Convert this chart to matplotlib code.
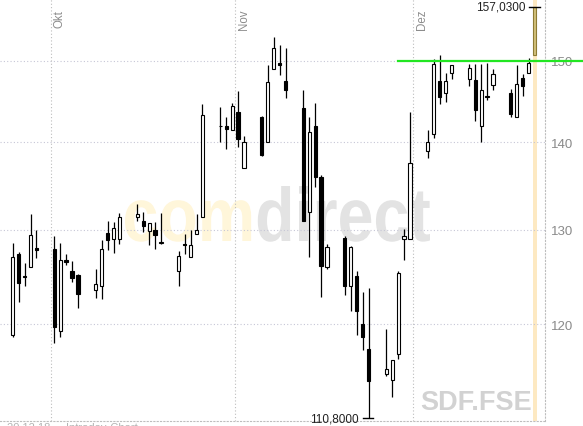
import matplotlib
matplotlib.use("Agg")
import matplotlib.pyplot as plt
import matplotlib.dates as mdates
import matplotlib.transforms as mtransforms
import numpy as np
from matplotlib.textpath import TextPath
from matplotlib.patches import PathPatch
from matplotlib.font_manager import FontProperties
from matplotlib.ticker import NullLocator

plt.rcParams['font.family'] = ['Liberation Sans', 'DejaVu Sans']

# trading days (Sep 24 - Dec 21, 2018)
dates = ['2018-09-24', '2018-09-25', '2018-09-26', '2018-09-27', '2018-09-28',
         '2018-10-01', '2018-10-02', '2018-10-03', '2018-10-04', '2018-10-05',
         '2018-10-08', '2018-10-09', '2018-10-10', '2018-10-11', '2018-10-12',
         '2018-10-15', '2018-10-16', '2018-10-17', '2018-10-18', '2018-10-19',
         '2018-10-22', '2018-10-23', '2018-10-24', '2018-10-25', '2018-10-26',
         '2018-10-29', '2018-10-30', '2018-10-31', '2018-11-01', '2018-11-02',
         '2018-11-05', '2018-11-06', '2018-11-07', '2018-11-08', '2018-11-09',
         '2018-11-12', '2018-11-13', '2018-11-14', '2018-11-15', '2018-11-16',
         '2018-11-19', '2018-11-20', '2018-11-21', '2018-11-22', '2018-11-23',
         '2018-11-26', '2018-11-27', '2018-11-28', '2018-11-29', '2018-11-30',
         '2018-12-03', '2018-12-04', '2018-12-05', '2018-12-06', '2018-12-07',
         '2018-12-10', '2018-12-11', '2018-12-12', '2018-12-13', '2018-12-14',
         '2018-12-17', '2018-12-18', '2018-12-19', '2018-12-20', '2018-12-21']

opens = [118.9, 127.4, 125.0, 126.0, 128.0,
         127.9, 119.3, 126.7, 125.5, 125.1,
         123.5, 123.9, 129.7, 129.0, 129.0,
         131.4, 131.0, 129.9, 130.0, 128.5,
         125.5, 128.4, 127.0, 129.5, 131.4,
         142.0, 142.0, 141.5, 143.6, 137.0,
         143.1, 140.0, 149.0, 149.7, 147.5,
         144.1, 132.0, 142.0, 136.0, 126.0,
         129.1, 124.0, 125.0, 120.0, 117.5,
         115.0, 114.5, 117.0, 129.0, 129.0,
         139.0, 141.0, 147.5, 146.0, 148.5,
         147.7, 147.6, 142.0, 145.6, 147.0,
         146.0, 143.1, 147.8, 148.5, 150.7]
highs = [128.6, 127.6, 126.4, 131.8, 130.0,
         129.3, 128.6, 127.4, 126.6, 125.2,
         125.8, 128.9, 131.0, 130.9, 131.9,
         132.9, 132.0, 130.8, 130.9, 131.9,
         127.7, 129.5, 130.0, 131.7, 144.6,
         144.3, 143.0, 144.7, 146.2, 140.7,
         143.2, 149.5, 153.1, 152.1, 151.6,
         146.3, 143.0, 144.8, 136.2, 128.4,
         129.3, 128.2, 125.5, 123.3, 123.7,
         119.5, 116.4, 125.5, 130.1, 143.6,
         141.5, 150.2, 150.7, 148.5, 149.5,
         149.6, 149.6, 149.6, 149.8, 149.0,
         146.5, 149.5, 148.4, 150.35, 157.03]
lows = [118.7, 122.3, 123.9, 126.0, 126.9,
        118.1, 118.7, 126.2, 124.4, 121.7,
        122.7, 122.6, 127.8, 127.5, 128.4,
        131.0, 129.8, 128.3, 127.9, 128.4,
        124.0, 127.4, 127.0, 129.5, 131.4,
        140.0, 139.2, 141.5, 139.4, 137.0,
        138.4, 140.0, 149.0, 148.2, 145.4,
        131.0, 127.0, 134.8, 122.8, 125.7,
        123.0, 121.4, 118.9, 117.4, 110.8,
        114.8, 112.8, 116.5, 126.7, 129.0,
        138.1, 140.5, 144.6, 144.9, 147.75,
        146.8, 142.6, 140.0, 145.1, 146.4,
        143.1, 143.1, 145.6, 148.5, 150.7]
closes = [127.0, 124.3, 124.9, 129.4, 127.8,
          119.7, 126.7, 126.5, 124.8, 123.1,
          124.2, 127.9, 128.9, 130.2, 131.4,
          131.7, 130.4, 130.75, 129.4, 128.7,
          127.1, 128.35, 128.3, 130.0, 143.3,
          141.9, 141.6, 144.4, 140.4, 140.1,
          138.5, 147.3, 151.7, 149.5, 146.4,
          131.0, 141.2, 136.0, 126.1, 128.1,
          124.0, 128.15, 121.4, 118.7, 114.4,
          115.5, 116.4, 125.3, 129.3, 137.6,
          140.0, 149.6, 145.5, 147.5, 149.5,
          149.1, 143.9, 146.3, 145.5, 148.4,
          143.4, 147.1, 146.9, 149.7, 157.03]

month_starts = ['2018-10-01', '2018-11-01', '2018-12-01']
month_names = ['Okt', 'Nov', 'Dez']
price_ticks = [120, 130, 140, 150]
resistance = 150
resistance_from = '2018-11-28'
symbol = 'SDF.FSE'

W, H = 583, 427
fig = plt.figure(figsize=(W / 100, H / 100), dpi=100)
ax = fig.add_axes([0, 5 / H, 545 / W, 422 / H])
ax.set_facecolor('none')

x = mdates.datestr2num(dates) + 0.5
o = np.array(opens)
c = np.array(closes)
hi = np.array(highs)
lo = np.array(lows)

ax.set_yscale('log')
ax.set_xlim(mdates.datestr2num('2018-09-22') + 0.35, mdates.datestr2num('2018-12-23') + 0.26)
ax.set_ylim(110.55, 158.09)

# comdirect watermark
prop = FontProperties(family='Liberation Sans', weight='bold')
tp_full = TextPath((0, 0), 'comdirect', size=1, prop=prop)
tp_com = TextPath((0, 0), 'com', size=1, prop=prop)
tp_dir = TextPath((0, 0), 'direct', size=1, prop=prop)
ext = tp_full.get_extents()
shift = ext.x1 - tp_dir.get_extents().x1
sx = (430 - 125) / (ext.x1 - ext.x0)
sy = (240 - 185) / ext.y1
to_fig = mtransforms.Affine2D().scale(1 / W, 1 / H) + fig.transFigure
for path, dx, col in [(tp_com, 0, '#fff6da'), (tp_dir, shift, '#e3e3e3')]:
    tr = mtransforms.Affine2D().translate(dx - ext.x0, 0).scale(sx, sy).translate(125, 185)
    patch = PathPatch(path, facecolor=col, edgecolor='none', transform=tr + to_fig, zorder=0.5)
    ax.add_artist(patch)

# grid
for lvl in price_ticks:
    ax.axhline(lvl, color='#c6c6d6', lw=0.8, ls=(0, (1, 2)), zorder=1)
for ms, name in zip(month_starts, month_names):
    xm = mdates.datestr2num(ms)
    ax.axvline(xm, color='#bdbdbd', lw=0.8, ls=(0, (1, 2)), zorder=1)
    ax.text(xm + 0.45, 1 - 10 / 422, name, transform=ax.get_xaxis_transform(),
            rotation=90, ha='left', va='top', fontsize=8.3, color='#8c8c8c')

# today marker band
ax.axvspan(x[-1] - 0.33, x[-1] + 0.33, color='#fde9c2', lw=0, zorder=0.8)

# candles
up = c >= o
body_col = np.where(up, 'white', 'black')
ax.vlines(x[:-1], lo[:-1], hi[:-1], color='black', lw=0.9, zorder=3)
ax.bar(x[:-1], np.abs(c - o)[:-1], bottom=np.minimum(o, c)[:-1], width=0.55,
       color=body_col[:-1], edgecolor='black', lw=0.8, zorder=4)
ax.bar(x[-1], c[-1] - o[-1], bottom=o[-1], width=0.55,
       color='#d2c07a', edgecolor='#8d7b34', lw=0.8, zorder=4)

# high / low markers
i_hi = int(np.argmax(hi))
i_lo = int(np.argmin(lo))
ax.plot([x[i_hi] - 0.95, x[i_hi] + 0.9], [hi[i_hi]] * 2, color='black', lw=1, zorder=5, clip_on=False)
ax.annotate(f'{hi[i_hi]:.4f}'.replace('.', ','), xy=(x[i_hi], hi[i_hi]), xytext=(-9, 0),
            textcoords='offset pixels', ha='right', va='center', fontsize=8.5, color='#222222')
ax.plot([x[i_lo] - 0.9, x[i_lo] + 0.8], [lo[i_lo]] * 2, color='black', lw=1, zorder=5, clip_on=False)
ax.annotate(f'{lo[i_lo]:.4f}'.replace('.', ','), xy=(x[i_lo], lo[i_lo]), xytext=(-10, 0),
            textcoords='offset pixels', ha='right', va='center', fontsize=8.5, color='#222222',
            annotation_clip=False)

# resistance line
ax.plot([mdates.datestr2num(resistance_from) + 0.5, mdates.datestr2num('2018-12-29') + 0.67],
        [resistance, resistance], color='#22e622', lw=1.6, zorder=6, clip_on=False)

# axes styling
for s in ['top', 'left']:
    ax.spines[s].set_visible(False)
for s in ['right', 'bottom']:
    ax.spines[s].set_color('#bdbdbd')
    ax.spines[s].set_linestyle((0, (1, 2)))
    ax.spines[s].set_linewidth(0.8)
ax.set_xticks([])
ax.yaxis.tick_right()
ax.set_yticks(price_ticks)
ax.set_yticklabels([str(t) for t in price_ticks])
ax.yaxis.set_minor_locator(NullLocator())
ax.tick_params(axis='y', length=0, pad=4.5, labelsize=9.5, labelcolor='#8a8a8a')

fig.text(420 / W, 17 / H, symbol, fontsize=19.5, weight='bold', color='#d2d2d2',
         ha='left', va='baseline')
fig.text(7 / W, -4 / H, '20.12.18     Intraday-Chart', fontsize=8, color='#b4b4b4',
         ha='left', va='baseline')

fig.savefig('out.png', dpi=100)
